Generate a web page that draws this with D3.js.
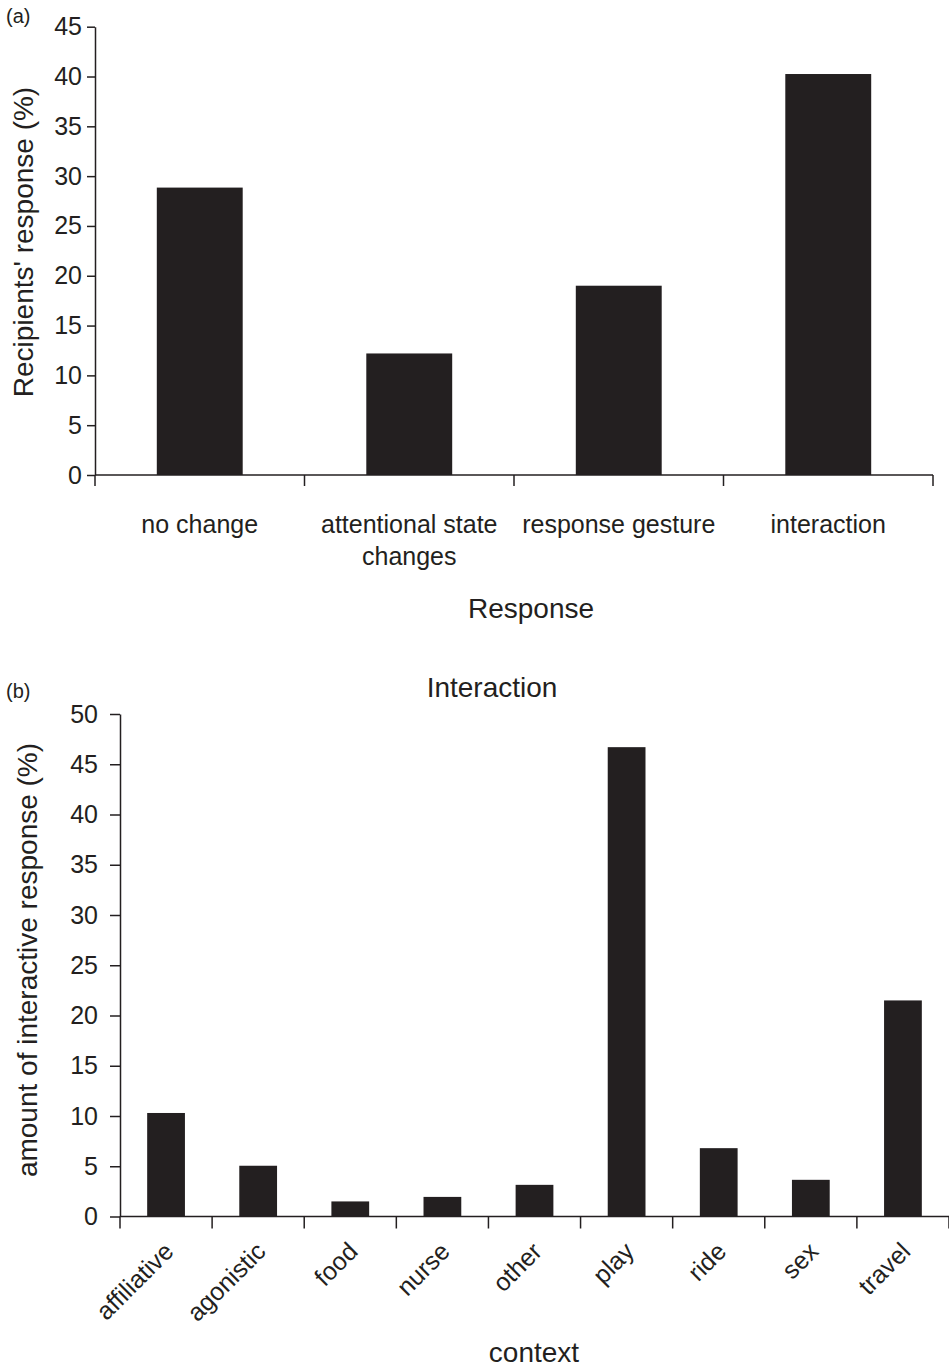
<!DOCTYPE html>
<html>
<head>
<meta charset="utf-8">
<script src="https://cdn.jsdelivr.net/npm/d3@7"></script>
<style>
  body { margin: 0; background: #fff; }
  text { font-family: "Liberation Sans", Arial, sans-serif; fill: #231f20; }
</style>
</head>
<body>
<script>
//panel (a) data
var responseCats = ["no change", "attentional state changes", "response gesture", "interaction"];
var responseLines = [["no change"], ["attentional state", "changes"], ["response gesture"], ["interaction"]];
var responseVals = [28.85, 12.2, 19.0, 40.25];
var responseTicks = [0, 5, 10, 15, 20, 25, 30, 35, 40, 45];

//panel (b) data
var contextCats = ["affiliative", "agonistic", "food", "nurse", "other", "play", "ride", "sex", "travel"];
var contextVals = [10.3, 5.05, 1.5, 1.95, 3.15, 46.7, 6.8, 3.65, 21.5];
var contextTicks = [0, 5, 10, 15, 20, 25, 30, 35, 40, 45, 50];

var ink = "#231f20";

var svg = d3.select("body").append("svg")
  .attr("width", 949)
  .attr("height", 1367);

//draw one bar panel
function panel(opts){
  var g = svg.append("g");

  var x = d3.scaleBand()
    .domain(opts.cats)
    .range(opts.xRange)
    .paddingInner(0.59)
    .paddingOuter(0.295);

  var y = d3.scaleLinear()
    .domain(opts.yDomain)
    .range(opts.yRange);

  //bars
  g.selectAll(".bar")
    .data(opts.vals)
    .enter()
    .append("rect")
    .attr("class", "bar")
    .attr("x", function(d, i){ return x(opts.cats[i]); })
    .attr("width", x.bandwidth())
    .attr("y", function(d){ return y(d); })
    .attr("height", function(d){ return y(0) - y(d); })
    .attr("fill", ink);

  //y axis
  var yAxis = g.append("g")
    .attr("transform", "translate(" + opts.xRange[0] + ",0)")
    .call(d3.axisLeft(y)
      .tickValues(opts.ticks)
      .tickSize(opts.yTickSize)
      .tickSizeOuter(0)
      .tickPadding(opts.yTickPad));
  yAxis.selectAll("path, line").attr("stroke", ink).attr("stroke-width", 1.5);
  yAxis.selectAll("text")
    .style("font-size", "25px")
    .attr("fill", ink);

  //x axis line and ticks at category boundaries
  var xg = g.append("g");
  xg.append("line")
    .attr("x1", opts.xRange[0]).attr("x2", opts.xRange[1])
    .attr("y1", y(0)).attr("y2", y(0))
    .attr("stroke", ink).attr("stroke-width", 1.5);
  xg.selectAll(".xtick")
    .data(d3.range(opts.cats.length + 1))
    .enter()
    .append("line")
    .attr("class", "xtick")
    .attr("x1", function(i){ return opts.xRange[0] + i * x.step(); })
    .attr("x2", function(i){ return opts.xRange[0] + i * x.step(); })
    .attr("y1", y(0))
    .attr("y2", y(0) + opts.xTickSize)
    .attr("stroke", ink).attr("stroke-width", 1.5);

  return {g: g, x: x, y: y};
}

//panel (a)
var a = panel({
  cats: responseCats, vals: responseVals, ticks: responseTicks,
  xRange: [95, 933], yDomain: [0, 45], yRange: [475, 26.7],
  yTickSize: 8, yTickPad: 5, xTickSize: 11
});

a.g.selectAll(".cat")
  .data(responseLines)
  .enter()
  .append("text")
  .attr("class", "cat")
  .attr("text-anchor", "middle")
  .style("font-size", "25px")
  .each(function(lines, i){
    var cx = a.x(responseCats[i]) + a.x.bandwidth() / 2;
    var t = d3.select(this);
    lines.forEach(function(l, k){
      t.append("tspan")
        .attr("x", cx)
        .attr("y", 533 + k * 32)
        .text(l);
    });
  });

a.g.append("text")
  .attr("x", 531).attr("y", 618)
  .attr("text-anchor", "middle")
  .style("font-size", "28px")
  .text("Response");

a.g.append("text")
  .attr("transform", "translate(33,242) rotate(-90)")
  .attr("text-anchor", "middle")
  .style("font-size", "28px")
  .text("Recipients' response (%)");

svg.append("text")
  .attr("x", 6).attr("y", 23)
  .style("font-size", "20px")
  .text("(a)");

//panel (b)
var b = panel({
  cats: contextCats, vals: contextVals, ticks: contextTicks,
  xRange: [120, 949], yDomain: [0, 50], yRange: [1216.5, 714],
  yTickSize: 10, yTickPad: 12, xTickSize: 12
});

b.g.selectAll(".cat")
  .data(contextCats)
  .enter()
  .append("text")
  .attr("class", "cat")
  .attr("text-anchor", "end")
  .style("font-size", "25px")
  .attr("transform", function(d){
    var cx = b.x(d) + b.x.bandwidth() / 2;
    return "translate(" + (cx + 9) + ",1253) rotate(-45)";
  })
  .text(function(d){ return d; });

b.g.append("text")
  .attr("x", 534).attr("y", 1362)
  .attr("text-anchor", "middle")
  .style("font-size", "28px")
  .text("context");

b.g.append("text")
  .attr("x", 492).attr("y", 697)
  .attr("text-anchor", "middle")
  .style("font-size", "28px")
  .text("Interaction");

b.g.append("text")
  .attr("transform", "translate(37,960) rotate(-90)")
  .attr("text-anchor", "middle")
  .style("font-size", "28px")
  .text("amount of interactive response (%)");

svg.append("text")
  .attr("x", 6).attr("y", 698)
  .style("font-size", "20px")
  .text("(b)");
</script>
</body>
</html>
